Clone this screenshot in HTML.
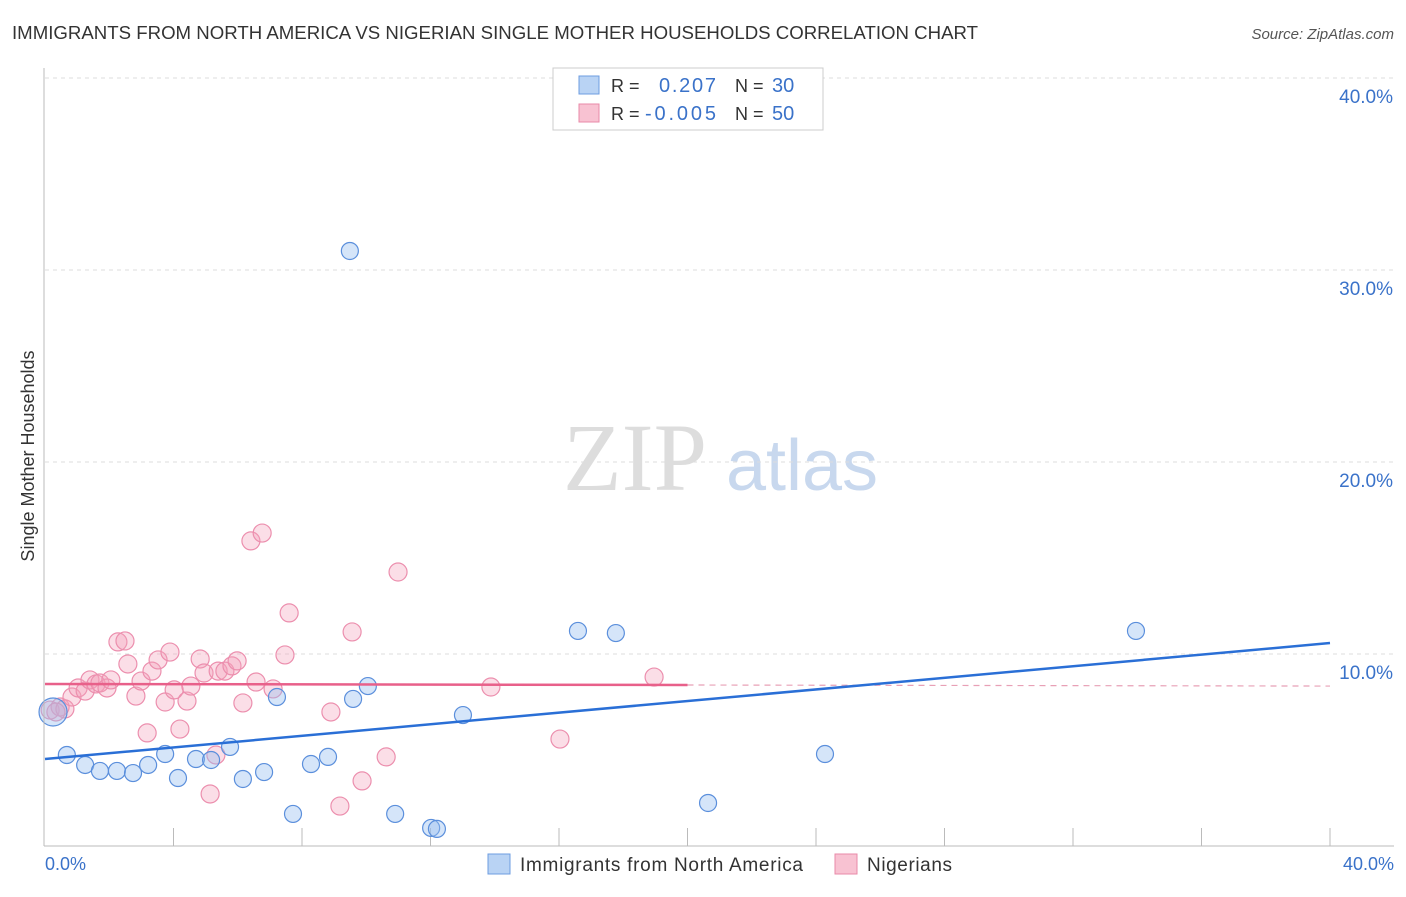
<!DOCTYPE html>
<html><head><meta charset="utf-8"><style>
body{margin:0;background:#fff;font-family:"Liberation Sans",sans-serif}
</style></head><body>
<svg width="1406" height="892" xmlns="http://www.w3.org/2000/svg" id="svg" font-family="Liberation Sans, sans-serif">
<text x="12" y="39" font-size="18" fill="#333" textLength="966" lengthAdjust="spacingAndGlyphs">IMMIGRANTS FROM NORTH AMERICA VS NIGERIAN SINGLE MOTHER HOUSEHOLDS CORRELATION CHART</text>
<text x="1394" y="39" font-size="15" fill="#555" font-style="italic" text-anchor="end">Source: ZipAtlas.com</text>
<text x="34" y="456" font-size="18" fill="#333" transform="rotate(-90 34 456)" text-anchor="middle">Single Mother Households</text>
<g><text x="635" y="490" font-size="96" fill="#ddd" font-family="Liberation Serif, serif" text-anchor="middle">ZIP</text><text x="802" y="490" font-size="72" fill="#c8d8ee" text-anchor="middle">atlas</text></g>
<g id="grid"></g><g id="marks"></g>
<line x1="44" y1="68" x2="44" y2="846" stroke="#bbb"/>
<line x1="44" y1="846" x2="1394" y2="846" stroke="#bbb"/>
<text x="45" y="870" font-size="18" fill="#3a72c9">0.0%</text>
<text x="1394" y="870" font-size="18" fill="#3a72c9" text-anchor="end">40.0%</text>
<g>
<rect x="553" y="68" width="270" height="62" fill="#fff" stroke="#ccc"/>
<rect x="579" y="76" width="20" height="18" fill="#b9d3f4" stroke="#6d9de0"/>
<rect x="579" y="104" width="20" height="18" fill="#f8c2d2" stroke="#e98aa8"/>
<text x="611" y="92" font-size="18" fill="#333">R =</text><text x="659" y="92" font-size="20" fill="#3a72c9" textLength="57">0.207</text>
<text x="735" y="92" font-size="18" fill="#333">N =</text><text x="772" y="92" font-size="20" fill="#3a72c9">30</text>
<text x="611" y="120" font-size="18" fill="#333">R =</text><text x="645" y="120" font-size="20" fill="#3a72c9" textLength="71">-0.005</text>
<text x="735" y="120" font-size="18" fill="#333">N =</text><text x="772" y="120" font-size="20" fill="#3a72c9">50</text>
</g>
<g>
<rect x="488" y="854" width="22" height="20" fill="#b9d3f4" stroke="#6d9de0"/>
<text x="520" y="871" font-size="19" fill="#333" textLength="283">Immigrants from North America</text>
<rect x="835" y="854" width="22" height="20" fill="#f8c2d2" stroke="#e98aa8"/>
<text x="867" y="871" font-size="19" fill="#333" textLength="85">Nigerians</text>
</g>
</svg>
<script>
const yTicks=[10,20,30,40];
const yTickLabels=["10.0%","20.0%","30.0%","40.0%"];
const xTicks=[4,8,12,16,20,24,28,32,36,40];
const blueX=[0.25,0.68,1.25,1.71,2.24,2.74,3.21,3.74,4.14,4.70,5.17,5.76,6.16,6.82,7.22,7.72,8.28,8.81,9.59,10.05,10.90,12.02,12.20,13.01,16.59,17.77,20.64,24.28,33.96,9.49];
const blueY=[6.98,4.74,4.22,3.91,3.91,3.80,4.22,4.79,3.54,4.53,4.48,5.16,3.49,3.85,7.76,1.67,4.27,4.64,7.66,8.33,1.67,0.94,0.89,6.82,11.20,11.09,2.24,4.79,11.20,30.99];
const pinkX=[0.16,0.47,0.62,0.84,1.03,1.25,1.40,1.59,1.71,1.93,2.05,2.27,2.49,2.58,2.83,2.99,3.18,3.33,3.52,3.74,3.89,4.02,4.20,4.42,4.54,4.83,4.95,5.32,5.39,5.60,5.82,5.98,6.16,6.41,6.57,6.76,7.10,7.47,7.60,8.90,9.18,9.56,9.87,10.62,10.99,13.88,16.03,18.96,5.14,0.34];
const pinkY=[7.08,7.24,7.14,7.76,8.23,8.07,8.65,8.44,8.49,8.23,8.65,10.63,10.68,9.48,7.81,8.59,5.89,9.11,9.69,7.50,10.10,8.13,6.09,7.55,8.33,9.74,9.01,4.74,9.11,9.11,9.38,9.64,7.45,15.89,8.54,16.30,8.18,9.95,12.14,6.98,2.08,11.15,3.39,4.64,14.27,8.28,5.57,8.80,2.71,6.98];
const blueTrend=[4.53,10.57];
const pinkTrend=[8.44,8.33];
const pinkSolidEnd=20;
const X=v=>45+v/40*1285, Y=v=>846-v*19.2;
const NS="http://www.w3.org/2000/svg";
const grid=document.getElementById('grid'), marks=document.getElementById('marks');
function mk(t,a,p){const e=document.createElementNS(NS,t);for(const k in a)e.setAttribute(k,a[k]);p.appendChild(e);return e;}
yTicks.forEach((t,i)=>{
 const l=mk('line',{x1:45,x2:1394,y1:Y(t),y2:Y(t),stroke:'#ddd','stroke-dasharray':'4,4'},grid);
 
 
 const tx=mk('text',{x:1393,y:Y(t)+25,'font-size':19,fill:'#3a72c9','text-anchor':'end'},grid);
 tx.textContent=yTickLabels[i];
 
 
});
xTicks.forEach(t=>{
 const l=mk('line',{x1:X(t),x2:X(t),y1:828,y2:846,stroke:'#bbb'},grid);
 
 
});
pinkX.forEach((x,i)=>{
 const c=mk('circle',{cx:X(x),cy:Y(pinkY[i]),r:9,fill:'rgba(244,160,187,0.35)',stroke:'#ec8fae','stroke-width':1.2},marks);
 
 
});
blueX.forEach((x,i)=>{
 const c=mk('circle',{cx:X(x),cy:Y(blueY[i]),r:i==0?14:8.5,fill:'rgba(150,190,240,0.4)',stroke:'#5b8fdc','stroke-width':1.2},marks);
 
 
});
const pt=v=>pinkTrend[0]+(pinkTrend[1]-pinkTrend[0])*v/40;
let l=mk('line',{x1:X(0),y1:Y(pinkTrend[0]),x2:X(pinkSolidEnd),y2:Y(pt(pinkSolidEnd)),stroke:'#e8608a','stroke-width':2.5},marks);


l=mk('line',{x1:X(pinkSolidEnd),y1:Y(pt(pinkSolidEnd)),x2:X(40),y2:Y(pinkTrend[1]),stroke:'#e8a0b6','stroke-width':1.2,'stroke-dasharray':'6,5'},marks);


l=mk('line',{x1:X(0),y1:Y(blueTrend[0]),x2:X(40),y2:Y(blueTrend[1]),stroke:'#2a6fd6','stroke-width':2.5},marks);


</script>
</body></html>
